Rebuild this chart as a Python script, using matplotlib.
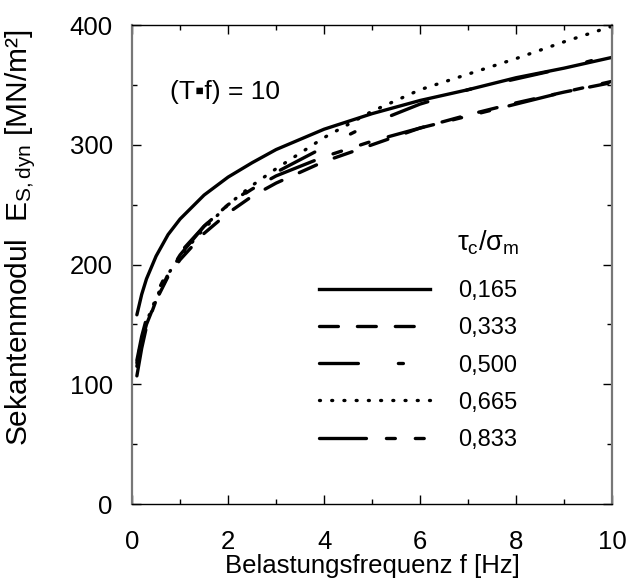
import numpy as np
import matplotlib.pyplot as plt
from matplotlib.lines import Line2D

plt.rcParams['font.family'] = ['Liberation Sans', 'DejaVu Sans']
plt.rcParams['mathtext.fontset'] = 'custom'
plt.rcParams['mathtext.rm'] = 'Liberation Sans'
plt.rcParams['mathtext.it'] = 'Liberation Sans:italic'
plt.rcParams['lines.scale_dashes'] = False

# frequency [Hz]
f = [0.1, 0.2, 0.3, 0.5, 0.75, 1, 1.5, 2, 2.5, 3, 4, 5, 6, 7, 8, 9, 10]

# secant modulus E_S,dyn [MN/m2] for tau_c/sigma_m
E_0165 = [158, 175, 188, 207, 225, 238, 258, 273, 285, 296, 313, 326, 337, 346, 356, 364, 373]
E_0333 = [115, 135, 150, 170, 190, 204, 226, 243, 257, 268, 286, 300, 314, 325, 335, 344, 352]
E_0500 = [120, 140, 155, 175, 195, 210, 232, 250, 264, 277, 298, 318, 334, 346, 355, 364, 375]
E_0665 = [118, 138, 152, 172, 192, 207, 230, 250, 266, 280, 306, 328, 346, 359, 372, 386, 399]
E_0833 = [107, 130, 148, 170, 192, 208, 232, 250, 263, 274, 290, 303, 314, 324, 334, 344, 353]

labels = ['0,165', '0,333', '0,500', '0,665', '0,833']
series = [E_0165, E_0333, E_0500, E_0665, E_0833]
styles = ['-',
          (0, (13.6, 13.7)),
          (0, (28, 28.8, 3.6, 28.8)),
          (0, (0.7, 8.1)),
          (0, (33.8, 14.4, 6.4, 14.4, 6.4, 14.4))]
lw = 2.4

fig = plt.figure(figsize=(6.35, 5.82), dpi=100)
ax = fig.add_axes([0.208, 0.134, 0.756, 0.823])

for y, ls in zip(series, styles):
    ax.plot(f, y, color='black', lw=lw, linestyle=ls,
            dash_capstyle='round', solid_capstyle='round')

ax.set_xlim(0, 10)
ax.set_ylim(0, 400)
ax.set_xticks([0, 2, 4, 6, 8, 10])
ax.set_xticks([1, 3, 5, 7, 9], minor=True)
ax.set_yticks([0, 100, 200, 300, 400])
ax.set_yticks([50, 150, 250, 350], minor=True)
ax.tick_params(which='both', direction='in', top=True, right=True,
               labelsize=18.5, width=1)
ax.tick_params(axis='x', pad=19)
ax.tick_params(axis='y', pad=14)
ax.tick_params(which='major', length=6.5)
ax.tick_params(which='minor', length=3.5)
ax.spines['left'].set_color('#777777')
ax.spines['right'].set_color('#777777')
ax.spines['left'].set_linewidth(1.6)
ax.spines['right'].set_linewidth(1.6)
ax.spines['top'].set_linewidth(1.0)
ax.spines['bottom'].set_linewidth(1.0)

ax.set_xlabel('Belastungsfrequenz f [Hz]', fontsize=18.5)
ax.xaxis.set_label_coords(0.5, -0.105)
ax.set_ylabel(r'Sekantenmodul  E$_{\rm S,dyn}$ [MN/m²]', fontsize=21.5)
ax.yaxis.set_label_coords(-0.196, 0.555)

ax.text(0.078, 0.86, '(T▪f) = 10', transform=ax.transAxes, fontsize=19,
        va='center', ha='left')

ax.text(0.806, 0.545, r'$\mathrm{\tau_c/\sigma_m}$', transform=ax.transAxes,
        fontsize=19.5, va='center', ha='right')

handles = [Line2D([], [], color='black', lw=lw, linestyle=ls,
                  dash_capstyle='round') for ls in styles]
leg = ax.legend(handles, labels, loc='upper left', bbox_to_anchor=(0.39, 0.467),
                frameon=False, fontsize=17, handlelength=4.7,
                handletextpad=1.2, labelspacing=0.64, borderpad=0,
                borderaxespad=0)

fig.savefig('out.png', dpi=100)
